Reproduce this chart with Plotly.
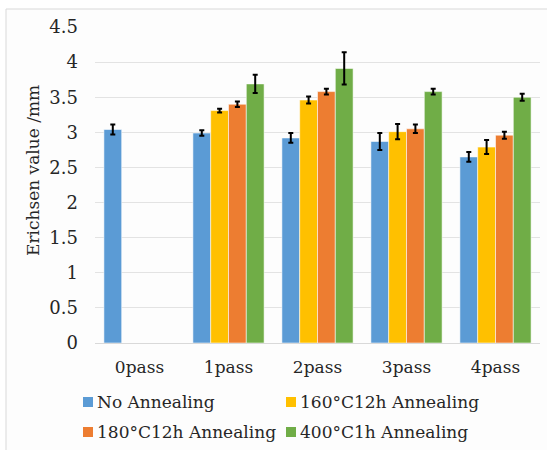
import plotly.graph_objects as go

# Erichsen cupping values (mm) after each ECAP pass, per annealing condition
passes = ["0pass", "1pass", "2pass", "3pass", "4pass"]

no_annealing = [3.04, 2.99, 2.92, 2.87, 2.65]
no_annealing_err = [0.07, 0.04, 0.07, 0.12, 0.07]

ann_160_12h = [None, 3.31, 3.46, 3.01, 2.79]
ann_160_12h_err = [None, 0.026, 0.05, 0.11, 0.10]

ann_180_12h = [None, 3.40, 3.58, 3.05, 2.96]
ann_180_12h_err = [None, 0.04, 0.04, 0.06, 0.05]

ann_400_1h = [None, 3.69, 3.91, 3.58, 3.50]
ann_400_1h_err = [None, 0.13, 0.23, 0.04, 0.05]

series_names = ["No Annealing", "160°C12h Annealing", "180°C12h Annealing", "400°C1h Annealing"]
series_values = [no_annealing, ann_160_12h, ann_180_12h, ann_400_1h]
series_errors = [no_annealing_err, ann_160_12h_err, ann_180_12h_err, ann_400_1h_err]
series_colors = ["#5B9BD5", "#FFC000", "#ED7D31", "#70AD47"]

y_ticks = [0, 0.5, 1, 1.5, 2, 2.5, 3, 3.5, 4, 4.5]
y_tick_text = ["0", "0.5", "1", "1.5", "2", "2.5", "3", "3.5", "4", "4.5"]

W, H = 547, 450
L, R, T, B = 95, 7, 27, 107
PW, PH = W - L - R, H - T - B


def px_x(px):
    return (px - L) / PW


def px_y(py):
    return (H - B - py) / PH


FONT = "DejaVu Serif"
FS = 17
FS_Y = 18
TEXT_COLOR = "#262626"

fig = go.Figure()
for name, vals, errs, color in zip(series_names, series_values, series_errors, series_colors):
    fig.add_trace(go.Bar(
        x=passes, y=vals, name=name,
        marker=dict(color=color, line=dict(color="rgba(255,255,255,0.55)", width=1)),
        error_y=dict(type="data", array=errs, visible=True,
                     color="#000000", thickness=2, width=2.5),
        showlegend=False,
    ))

# chart frame
fig.add_shape(type="rect", xref="paper", yref="paper",
              x0=px_x(6), x1=px_x(560), y0=px_y(460), y1=px_y(9),
              fillcolor="#fdfdfd", line=dict(color="#d9d9d9", width=1), layer="below")

# legend: coloured squares and labels in two columns
legend_pos = [(88, 402), (291, 402), (88, 432), (291, 432)]
for (cx, cy), name, color in zip(legend_pos, series_names, series_colors):
    fig.add_shape(type="rect", xref="paper", yref="paper",
                  x0=px_x(cx - 5), x1=px_x(cx + 5), y0=px_y(cy + 5), y1=px_y(cy - 5),
                  fillcolor=color, line=dict(width=0))
    fig.add_annotation(xref="paper", yref="paper", x=px_x(cx + 7), y=px_y(cy),
                       xanchor="left", yanchor="middle", showarrow=False,
                       text=name, font=dict(family=FONT, size=FS, color=TEXT_COLOR))

# y-axis title
fig.add_annotation(xref="paper", yref="paper", x=px_x(33), y=px_y(171),
                   xanchor="center", yanchor="middle", showarrow=False, textangle=-90,
                   text="Erichsen value /mm", font=dict(family=FONT, size=FS, color=TEXT_COLOR))

fig.update_layout(
    width=W, height=H,
    margin=dict(l=L, r=R, t=T, b=B, pad=0),
    paper_bgcolor="#ffffff", plot_bgcolor="rgba(0,0,0,0)",
    barmode="group", bargap=0.2, bargroupgap=0,
    font=dict(family=FONT, size=FS, color=TEXT_COLOR),
    xaxis=dict(showgrid=False, showline=True, linecolor="#d9d9d9", linewidth=1,
               ticks="", ticklabelstandoff=9,
               tickfont=dict(family=FONT, size=FS, color=TEXT_COLOR)),
    yaxis=dict(range=[0, 4.5], tickvals=y_ticks, ticktext=y_tick_text,
               showgrid=True, gridcolor="#e3e3e3", gridwidth=1,
               zeroline=False, showline=False, ticks="", ticklabelstandoff=16,
               tickfont=dict(family=FONT, size=FS_Y, color=TEXT_COLOR)),
)

fig.write_html("out.html")
